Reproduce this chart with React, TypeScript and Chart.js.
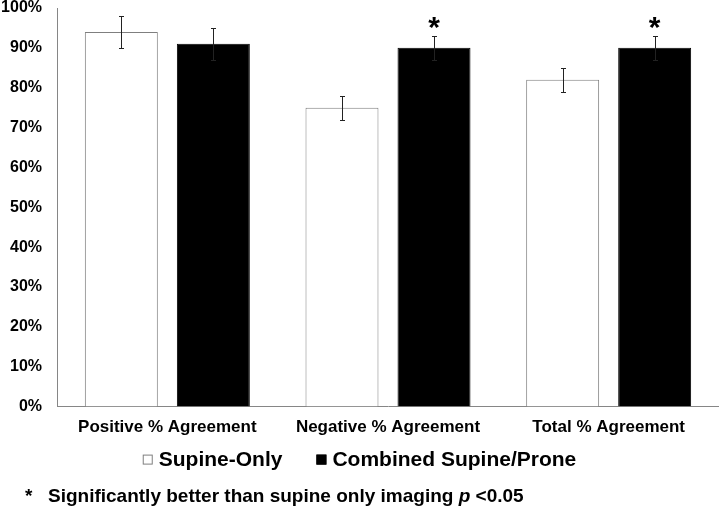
import React, { useEffect, useRef } from 'react';
import { Chart, registerables } from 'chart.js';

Chart.register(...registerables);

const categories = ['Positive % Agreement', 'Negative % Agreement', 'Total % Agreement'];
const seriesNames = ['Supine-Only', 'Combined Supine/Prone'];
const supineOnly = [94, 75, 82];
const supineOnlyErr = [4, 3, 3];
const combined = [91, 90, 90];
const combinedErr = [4, 3, 3];
const combinedSignificant = [false, true, true];
const footnoteParts = ['Significantly better than supine only imaging ', 'p', ' <0.05'];

const FONT = '"Liberation Sans", Arial, Helvetica, sans-serif';

const errorsByDataset = [supineOnlyErr, combinedErr];

const errorBarPlugin = {
  id: 'errorBars',
  afterDatasetsDraw(chart: any) {
    const ctx = chart.ctx;
    const y = chart.scales.y;
    ctx.save();
    ctx.strokeStyle = '#222';
    ctx.lineWidth = 1;
    chart.data.datasets.forEach((ds: any, di: number) => {
      const meta = chart.getDatasetMeta(di);
      meta.data.forEach((bar: any, i: number) => {
        const v = ds.data[i];
        const e = errorsByDataset[di][i];
        const x = Math.round(bar.x) + 0.5;
        const yt = Math.round(y.getPixelForValue(v + e)) + 0.5;
        const yb = Math.round(y.getPixelForValue(v - e)) + 0.5;
        ctx.beginPath();
        ctx.moveTo(x, yt);
        ctx.lineTo(x, yb);
        ctx.moveTo(x - 2.5, yt);
        ctx.lineTo(x + 2.5, yt);
        ctx.moveTo(x - 2.5, yb);
        ctx.lineTo(x + 2.5, yb);
        ctx.stroke();
      });
    });
    // significance asterisks
    const meta = chart.getDatasetMeta(1);
    ctx.fillStyle = '#000';
    ctx.font = `bold 30px ${FONT}`;
    ctx.textAlign = 'center';
    ctx.textBaseline = 'alphabetic';
    meta.data.forEach((bar: any, i: number) => {
      if (!combinedSignificant[i]) return;
      const yt = y.getPixelForValue(combined[i] + combinedErr[i]);
      ctx.fillText('*', bar.x, yt + 1);
    });
    ctx.restore();
  },
};

const legendFootPlugin = {
  id: 'legendFoot',
  afterDraw(chart: any) {
    const ctx = chart.ctx;
    ctx.save();
    // legend
    ctx.font = `bold 21px ${FONT}`;
    const box = 10;
    const gapBox = 6;
    const gapItems = 34;
    const items = chart.data.datasets.map((ds: any) => ({
      text: ds.label,
      fill: ds.backgroundColor,
      stroke: ds.borderColor,
    }));
    const widths = items.map((it: any) => box + gapBox + ctx.measureText(it.text).width);
    const total = widths.reduce((a: number, b: number) => a + b, 0) + gapItems * (items.length - 1);
    let x = (chart.width - total) / 2;
    const cy = chart.chartArea.bottom + 53;
    ctx.textBaseline = 'middle';
    ctx.textAlign = 'left';
    items.forEach((it: any, i: number) => {
      ctx.fillStyle = it.fill;
      ctx.fillRect(x, cy - box / 2, box, box);
      ctx.strokeStyle = it.stroke;
      ctx.lineWidth = 1;
      ctx.strokeRect(x + 0.5, cy - box / 2 + 0.5, box - 1, box - 1);
      ctx.fillStyle = '#000';
      ctx.fillText(it.text, x + box + gapBox, cy + 1);
      x += widths[i] + gapItems;
    });
    // footnote
    const fy = chart.chartArea.bottom + 90;
    ctx.font = `bold 19px ${FONT}`;
    ctx.fillStyle = '#000';
    ctx.fillText('*', 25, fy);
    let fx = 48;
    footnoteParts.forEach((t, i) => {
      ctx.font = i === 1 ? `italic bold 19px ${FONT}` : `bold 19px ${FONT}`;
      ctx.fillText(t, fx, fy);
      fx += ctx.measureText(t).width;
    });
    ctx.restore();
  },
};

export default function App() {
  const ref = useRef<HTMLCanvasElement | null>(null);
  useEffect(() => {
    document.body.style.margin = '0';
    const canvas = ref.current;
    if (!canvas) return;
    const chart = new Chart(canvas, {
      type: 'bar',
      data: {
        labels: categories,
        datasets: [
          {
            label: seriesNames[0],
            data: supineOnly,
            backgroundColor: '#ffffff',
            borderColor: '#7f7f7f',
            borderWidth: 1,
          },
          {
            label: seriesNames[1],
            data: combined,
            backgroundColor: '#000000',
            borderColor: '#000000',
            borderWidth: 1,
          },
        ],
      },
      options: {
        responsive: false,
        animation: false,
        devicePixelRatio: 1,
        datasets: {
          bar: { categoryPercentage: 0.834, barPercentage: 0.793 },
        },
        layout: { padding: { top: 8, right: 0, bottom: 59, left: 0 } },
        plugins: {
          legend: { display: false },
          tooltip: { enabled: false },
        },
        scales: {
          x: {
            grid: { display: false, drawTicks: false },
            border: { display: true, color: '#868686', width: 1 },
            ticks: {
              color: '#000',
              padding: 11,
              font: { family: FONT, size: 17, weight: 'bold' },
            },
          },
          y: {
            min: 0,
            max: 100,
            grid: { display: false, drawTicks: false },
            border: { display: true, color: '#868686', width: 1 },
            ticks: {
              stepSize: 10,
              color: '#000',
              padding: 15,
              font: { family: FONT, size: 16, weight: 'bold' },
              callback: (v: any) => `${v}%`,
            },
            afterFit: (scale: any) => {
              scale.width = 57;
              scale.paddingTop = 0;
              scale.paddingBottom = 0;
            },
          },
        },
      },
      plugins: [errorBarPlugin, legendFootPlugin],
    });
    return () => chart.destroy();
  }, []);
  return (
    <div style={{ width: 719, height: 508, background: '#fff' }}>
      <canvas ref={ref} width={719} height={508} style={{ display: 'block' }} />
    </div>
  );
}
